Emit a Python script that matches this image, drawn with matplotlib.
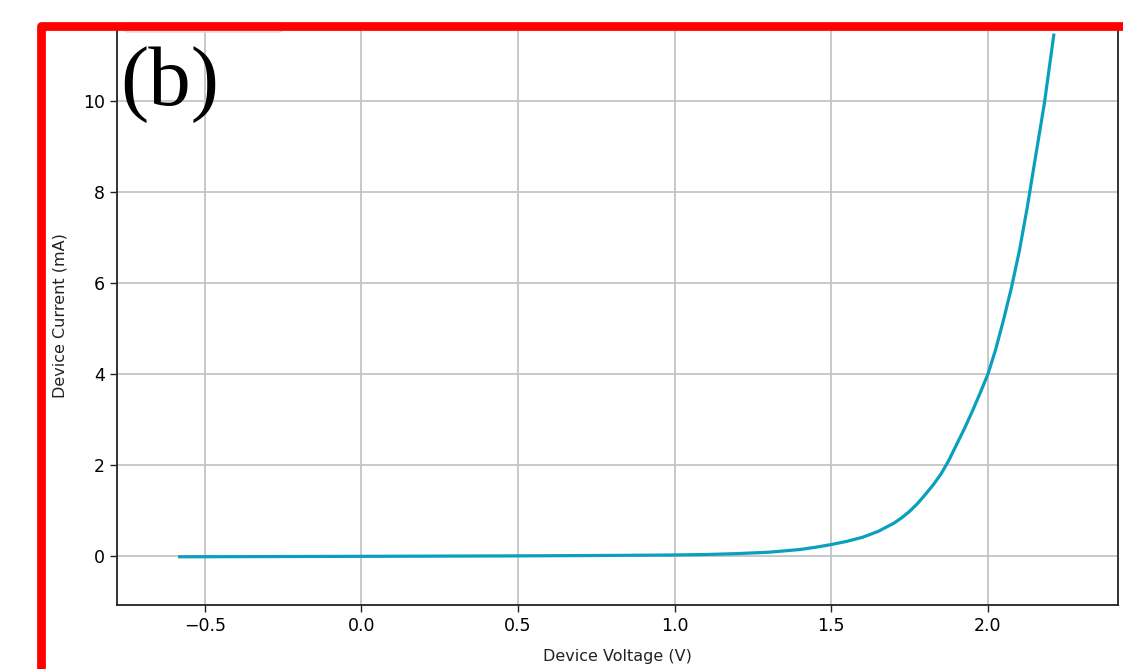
import matplotlib.pyplot as plt
from matplotlib.lines import Line2D
from matplotlib.patches import FancyBboxPatch

# I-V curve
voltage = [-0.58, 0.0, 0.5, 0.8, 1.0, 1.1, 1.2, 1.3, 1.35, 1.4, 1.45, 1.5, 1.55,
           1.6, 1.65, 1.7, 1.725, 1.75, 1.775, 1.8, 1.825, 1.85, 1.875, 1.9, 1.925,
           1.95, 1.975, 2.0, 2.025, 2.05, 2.075, 2.1, 2.125, 2.15, 2.18, 2.21]
current = [-0.02, -0.01, 0.0, 0.01, 0.02, 0.03, 0.05, 0.08, 0.11, 0.14, 0.19, 0.25, 0.32,
           0.41, 0.54, 0.72, 0.84, 0.98, 1.15, 1.35, 1.56, 1.8, 2.1, 2.45, 2.8,
           3.18, 3.58, 4.0, 4.55, 5.2, 5.9, 6.7, 7.65, 8.7, 9.95, 11.45]

x_ticks = [-0.5, 0.0, 0.5, 1.0, 1.5, 2.0]
y_ticks = [0, 2, 4, 6, 8, 10]

W, H = 1123, 669
fig = plt.figure(figsize=(W / 100, H / 100), dpi=100)
ax = fig.add_axes([117 / W, 1 - 605 / H, (1118 - 117) / W, (605 - 26) / H])

ax.plot(voltage, current, color='#0aa0bd', linewidth=2.3)
ax.set_xlim(-0.78, 2.415)
ax.set_ylim(-1.08, 11.65)
ax.set_xticks(x_ticks)
ax.set_yticks(y_ticks)
ax.tick_params(labelsize=12.5, length=5, width=1, color='#222222')
ax.grid(True, color='#c4c4c4', linewidth=1.3)
ax.set_axisbelow(True)
for s in ax.spines.values():
    s.set_linewidth(1.3)
    s.set_color('#222222')

ax.set_xlabel("Device Voltage (V)", fontsize=11.5, color='#222222', labelpad=10)
ax.set_ylabel("Device Current (mA)", fontsize=11.5, color='#222222', labelpad=11)

# legend box peeking out under the red frame
fig.patches.append(FancyBboxPatch((125 / W, 1 - 32 / H), (282 - 125) / W, 9 / H,
                                  boxstyle="round,pad=0,rounding_size=0.003",
                                  transform=fig.transFigure, facecolor='white',
                                  edgecolor='#d8d8d8', linewidth=1.0, zorder=5))

# panel label
fig.text(120 / W, 1 - 105 / H, "(b)", fontsize=61, family='Liberation Serif',
         color='black', ha='left', va='baseline', zorder=6)

# red frame (top and left edge)
frame = Line2D([40.5 / W, 40.5 / W, 1.01], [-0.01, 1 - 25.5 / H, 1 - 25.5 / H],
               transform=fig.transFigure, color='#ff0000', linewidth=6.3,
               solid_joinstyle='round', solid_capstyle='butt', zorder=10)
fig.lines.append(frame)

fig.savefig("out.png", dpi=100)
